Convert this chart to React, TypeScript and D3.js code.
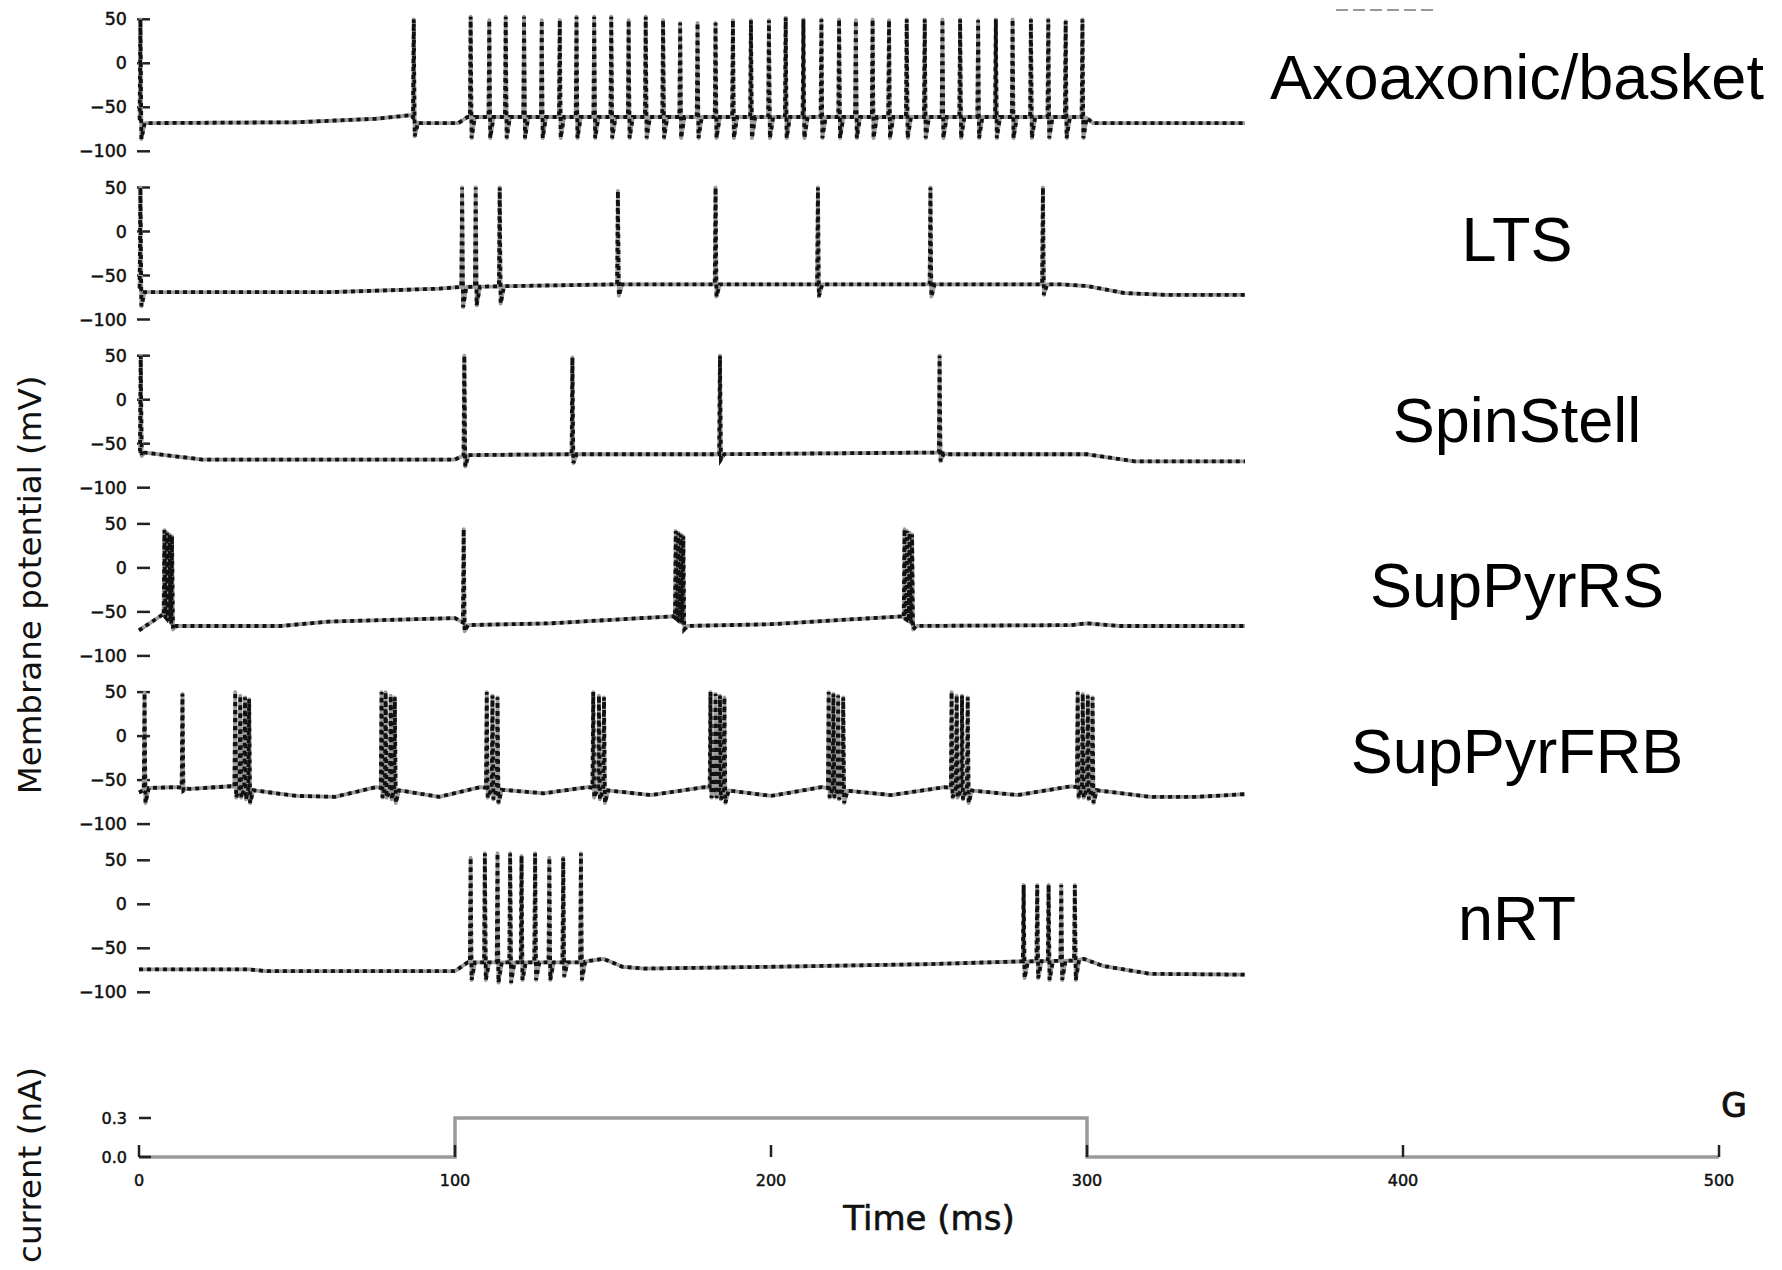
import { useEffect, useRef } from 'react';
import * as d3 from 'd3';

type Knot = [number, number];
type Spike = [number, number, number]; // time (ms), peak (mV), trough (mV)

const cellNames = ['Axoaxonic/basket', 'LTS', 'SpinStell', 'SupPyrRS', 'SupPyrFRB', 'nRT'];
const membraneTicks = [50, 0, -50, -100];
const timeTicks = [0, 100, 200, 300, 400, 500];
const currentTicks = [0.0, 0.3];

// injected current step (ms, nA)
const stimulus: Knot[] = [[0, 0], [100, 0], [100, 0.3], [300, 0.3], [300, 0], [500, 0]];

// resting / subthreshold membrane potential (ms, mV)
const axoBase: Knot[] = [[0, -62], [1.5, -68], [50, -67], [75, -63], [86, -59], [88.5, -68], [101, -68], [104, -61], [299.5, -61], [302, -68], [350, -68]];
const ltsBase: Knot[] = [[0, -62], [1.5, -69], [60, -69], [95, -65], [102, -63], [151, -60], [250, -60], [292, -60], [300, -62], [312, -70], [325, -72], [350, -72]];
const ssBase: Knot[] = [[0, -58], [1.5, -60], [20, -68], [100, -68], [103, -63], [136, -62], [183, -62], [253, -60], [256, -62], [300, -62], [315, -70], [350, -70]];
const rsBase: Knot[] = [[0, -71], [7.5, -53], [11, -66], [45, -66], [60, -61], [100, -57], [104, -65], [130, -63], [169, -55], [173, -66], [200, -64], [241.5, -55], [245.5, -66], [295, -65], [300, -63], [310, -66], [350, -66]];
const frbBase: Knot[] = [[0, -64], [3, -59], [12, -58], [16, -60], [29, -57], [37, -62], [50, -68], [62, -69], [75, -58], [83, -62], [95, -69], [108, -58], [115, -61], [128, -65], [142, -58], [149, -62], [162, -67], [179, -58], [187, -62], [200, -68], [216, -58], [224, -62], [238, -67], [255, -58], [264, -62], [278, -67], [295, -57], [304, -62], [320, -69], [335, -69], [350, -66]];
const nrtBase: Knot[] = [[0, -74], [35, -74], [40, -76], [100, -76], [104, -66], [140, -66], [143, -64], [147, -62], [153, -71], [160, -73], [200, -71], [250, -68], [278, -65], [296, -64], [299, -62], [305, -70], [320, -79], [350, -80]];

// action potentials
const axoSpikes: Spike[] = [
  [0.2, 50, -86], [86.7, 50, -83],
  [104.7, 53, -85], [110.6, 49, -85], [115.8, 53, -85], [121.6, 53, -85], [127.2, 49, -85], [132.9, 49, -85],
  [138.2, 53, -85], [143.8, 53, -85], [149.2, 53, -85], [154.7, 49, -85], [160.1, 53, -85], [165.6, 49, -85],
  [171.0, 46, -85], [176.5, 46, -85], [182.2, 46, -85], [187.7, 49, -85], [193.4, 49, -85], [199.1, 49, -85],
  [204.4, 52, -85], [210.0, 50, -85], [215.7, 50, -85], [221.3, 50, -85], [226.6, 49, -85], [231.9, 50, -85],
  [237.1, 49, -85], [242.7, 50, -85], [248.4, 50, -85], [254.0, 50, -85], [259.6, 50, -85], [265.3, 49, -85],
  [270.9, 50, -85], [276.2, 50, -85], [282.0, 50, -85], [287.5, 50, -85], [293.0, 48, -85], [298.3, 50, -85],
];
const ltsSpikes: Spike[] = [
  [0.2, 50, -85], [102.0, 50, -86], [106.3, 50, -84], [113.9, 50, -82],
  [151.3, 46, -73], [182.2, 50, -74], [214.6, 50, -74], [250.2, 50, -74], [285.8, 50, -72],
];
const ssSpikes: Spike[] = [
  [0.3, 50, -64], [102.7, 50, -76], [136.9, 48, -72], [183.6, 50, -68], [253.1, 50, -70],
];
const rsSpikes: Spike[] = [
  [7.8, 43, -56], [8.6, 40, -56], [9.4, 38, -58], [10.2, 36, -70],
  [102.5, 44, -72],
  [169.6, 42, -58], [170.4, 40, -58], [171.2, 38, -60], [172.0, 36, -70],
  [242.0, 44, -58], [242.8, 42, -58], [243.6, 40, -60], [244.4, 38, -70],
];
const frbSpikes: Spike[] = [
  [1.5, 49, -76], [13.5, 48, -62],
  [30.2, 50, -70], [31.8, 46, -70], [33.3, 44, -72], [34.6, 42, -76],
  [76.5, 50, -70], [77.8, 50, -70], [79.4, 46, -72], [80.7, 44, -76],
  [109.8, 50, -70], [111.6, 46, -72], [113.2, 44, -76],
  [143.5, 50, -70], [145.3, 46, -72], [146.9, 44, -76],
  [180.6, 50, -70], [182.2, 48, -70], [183.6, 46, -72], [185.0, 44, -76],
  [218.0, 50, -70], [219.5, 48, -70], [221.0, 46, -72], [222.6, 44, -76],
  [256.9, 50, -70], [258.5, 46, -70], [260.2, 46, -72], [262.0, 44, -76],
  [296.8, 50, -70], [298.4, 48, -70], [300.0, 46, -72], [301.5, 44, -76],
];
const nrtSpikes: Spike[] = [
  [104.7, 53, -86], [109.2, 58, -86], [113.2, 58, -89], [117.2, 58, -89], [120.8, 55, -86],
  [125.1, 58, -86], [129.6, 53, -86], [134.0, 53, -82], [139.6, 58, -86],
  [279.7, 22, -84], [284.0, 22, -84], [287.6, 22, -86], [291.6, 22, -86], [295.9, 22, -86],
];

const bases = [axoBase, ltsBase, ssBase, rsBase, frbBase, nrtBase];
const spikeSets = [axoSpikes, ltsSpikes, ssSpikes, rsSpikes, frbSpikes, nrtSpikes];

function buildTrace(base: Knot[], spikes: Spike[]): Knot[] {
  const baseAt = d3.scaleLinear()
    .domain(base.map(d => d[0]))
    .range(base.map(d => d[1]))
    .clamp(true);
  const pts: Knot[] = [];
  spikes.forEach(([t, peak, trough], k) => {
    const next = k < spikes.length - 1 ? spikes[k + 1][0] : Infinity;
    pts.push([t, baseAt(t)], [t + 0.25, peak], [t + 0.55, trough]);
    if (next - t > 1.8) pts.push([t + 1.6, baseAt(t + 1.6)]);
  });
  const busy = (tt: number) => spikes.some(([t]) => tt >= t - 0.05 && tt <= t + 1.7);
  base.forEach(d => { if (!busy(d[0])) pts.push(d); });
  return pts.sort((a, b) => a[0] - b[0]);
}

function App() {
  const svgRef = useRef<SVGSVGElement | null>(null);

  useEffect(() => {
    if (!svgRef.current) return;
    const svg = d3.select(svgRef.current);
    svg.selectAll('*').remove();

    const x = d3.scaleLinear().domain([0, 500]).range([139, 1719]);
    const panelStep = 168.2;
    const tickFont = 'DejaVu Sans, sans-serif';

    // membrane potential panels
    bases.forEach((base, i) => {
      const top = 19.3 + panelStep * i;
      const y = d3.scaleLinear().domain([-100, 50]).range([top + 132, top]);
      const g = svg.append('g');

      membraneTicks.forEach(v => {
        g.append('line')
          .attr('x1', 137).attr('x2', 150)
          .attr('y1', y(v)).attr('y2', y(v))
          .attr('stroke', '#222').attr('stroke-width', 2.5);
        g.append('text')
          .attr('x', 127).attr('y', y(v))
          .attr('text-anchor', 'end')
          .attr('dominant-baseline', 'central')
          .attr('font-family', tickFont)
          .attr('font-size', 17.5)
          .attr('fill', '#111')
          .attr('stroke', '#111')
          .attr('stroke-width', 0.5)
          .text(d3.format('d')(v));
      });

      const pts = buildTrace(base, spikeSets[i]);
      const line = d3.line<Knot>().x(d => x(d[0])).y(d => y(d[1]));
      g.append('path')
        .attr('d', line(pts))
        .attr('fill', 'none')
        .attr('stroke', '#9d9d9d')
        .attr('stroke-width', 3.8)
        .attr('stroke-linejoin', 'round');
      g.append('path')
        .attr('d', line(pts))
        .attr('fill', 'none')
        .attr('stroke', '#111')
        .attr('stroke-width', 3.8)
        .attr('stroke-dasharray', '4 4');
    });

    // cell names
    const nameBaselines = [99, 261, 442, 607, 773, 940];
    cellNames.forEach((name, i) => {
      svg.append('text')
        .attr('x', 1517).attr('y', nameBaselines[i])
        .attr('text-anchor', 'middle')
        .attr('font-family', 'Liberation Sans, Arial, sans-serif')
        .attr('font-size', 63)
        .attr('fill', '#000')
        .text(name);
    });

    // small remnant dashes at the top
    svg.append('line')
      .attr('x1', 1336).attr('x2', 1438).attr('y1', 10).attr('y2', 10)
      .attr('stroke', '#777').attr('stroke-width', 1.5)
      .attr('stroke-dasharray', '12 5');

    svg.append('text')
      .attr('transform', 'translate(41,585) rotate(-90)')
      .attr('text-anchor', 'middle')
      .attr('font-family', tickFont)
      .attr('font-size', 32.5)
      .attr('fill', '#111')
      .text('Membrane potential (mV)');

    // current panel
    const yI = d3.scaleLinear().domain([0, 0.3]).range([1157, 1118]);
    const cg = svg.append('g');
    cg.append('path')
      .attr('d', d3.line<Knot>().x(d => x(d[0])).y(d => yI(d[1]))(stimulus))
      .attr('fill', 'none')
      .attr('stroke', '#9a9a9a')
      .attr('stroke-width', 3.5);

    timeTicks.forEach(t => {
      cg.append('line')
        .attr('x1', x(t)).attr('x2', x(t))
        .attr('y1', yI(0)).attr('y2', yI(0) - 12)
        .attr('stroke', '#222').attr('stroke-width', 2.5);
      cg.append('text')
        .attr('x', x(t)).attr('y', 1180)
        .attr('text-anchor', 'middle')
        .attr('dominant-baseline', 'central')
        .attr('font-family', tickFont)
        .attr('font-size', 16)
        .attr('fill', '#111')
        .attr('stroke', '#111')
        .attr('stroke-width', 0.5)
        .text(String(t));
    });

    currentTicks.forEach(v => {
      cg.append('line')
        .attr('x1', 139).attr('x2', 151)
        .attr('y1', yI(v)).attr('y2', yI(v))
        .attr('stroke', '#222').attr('stroke-width', 2.5);
      cg.append('text')
        .attr('x', 127).attr('y', yI(v))
        .attr('text-anchor', 'end')
        .attr('dominant-baseline', 'central')
        .attr('font-family', tickFont)
        .attr('font-size', 16)
        .attr('fill', '#111')
        .attr('stroke', '#111')
        .attr('stroke-width', 0.5)
        .text(d3.format('.1f')(v));
    });

    svg.append('text')
      .attr('x', 929).attr('y', 1230)
      .attr('text-anchor', 'middle')
      .attr('font-family', tickFont)
      .attr('font-size', 34)
      .attr('fill', '#111')
      .attr('stroke', '#111')
      .attr('stroke-width', 0.6)
      .text('Time (ms)');

    svg.append('text')
      .attr('transform', 'translate(41,1165) rotate(-90)')
      .attr('text-anchor', 'middle')
      .attr('font-family', tickFont)
      .attr('font-size', 32.5)
      .attr('fill', '#111')
      .text('current (nA)');

    svg.append('text')
      .attr('x', 1734).attr('y', 1117)
      .attr('text-anchor', 'middle')
      .attr('font-family', tickFont)
      .attr('font-size', 33)
      .attr('fill', '#111')
      .attr('stroke', '#111')
      .attr('stroke-width', 1)
      .text('G');
  }, []);

  return (
    <svg
      ref={svgRef}
      width={1782}
      height={1270}
      style={{ position: 'absolute', left: 0, top: 0, background: '#fff' }}
    />
  );
}

export default App;
